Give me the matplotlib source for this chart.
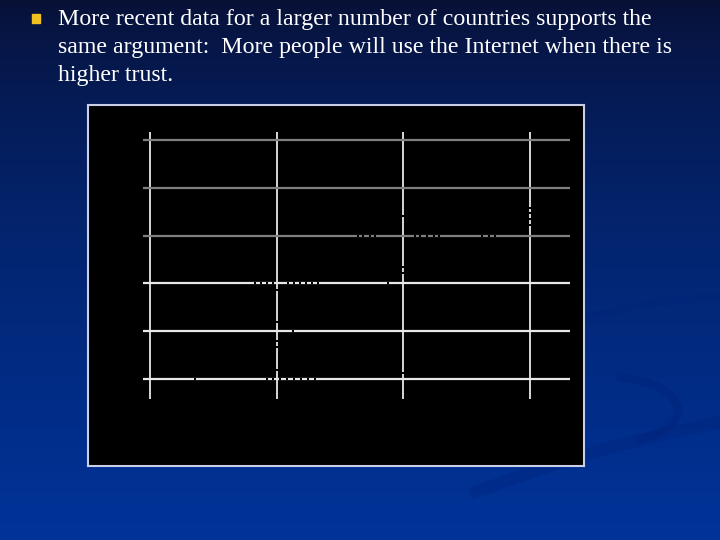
import numpy as np
import matplotlib
matplotlib.use("Agg")
import matplotlib.pyplot as plt
from matplotlib.patches import Rectangle

# ---- data ----
x_ticks = [0, 20, 40, 60]
y_ticks = [0, 20, 40, 60, 80, 100]
trust = [32.8, 33.7, 34.7, 35.5, 41.8, 42.7, 43.8, 44.9, 45.7, 52.4, 53.5, 54.4,
         60, 60, 60, 60, 40,
         16.6, 17.5, 18.4, 19.4, 21.8, 22.7, 23.7, 24.6, 25.5, 26.5, 37.5,
         20, 40, 40,
         22.6, 20, 20, 20,
         7.1, 18.4, 19.4, 20.5, 21.6, 22.7, 23.8, 24.9, 26.0,
         20, 40]
internet = [60, 60, 60, 60, 60, 60, 60, 60, 60, 60, 60, 60,
            71.5, 69.5, 67.0, 64.4, 68.2,
            40, 40, 40, 40, 40, 40, 40, 40, 40, 40, 40,
            37.2, 46.9, 44.4,
            20, 23.8, 15.9, 13.4,
            0, 0, 0, 0, 0, 0, 0, 0, 0,
            3.8, 2.5]
bullet_lines = ["More recent data for a larger number of countries supports the",
                "same argument:  More people will use the Internet when there is",
                "higher trust."]

W, H = 720, 540
fig = plt.figure(figsize=(7.2, 5.4), dpi=100)

# background gradient
bg = fig.add_axes([0, 0, 1, 1])
t = np.linspace(0, 1, 256)[:, None]
top = np.array([0.03, 0.06, 0.20])
bot = np.array([0.0, 0.20, 0.60])
grad = top + (bot - top) * (t ** 0.65)
img = np.repeat(grad[:, None, :], 2, axis=1)
bg.imshow(img, aspect="auto", extent=[0, W, H, 0])
bg.set_xlim(0, W)
bg.set_ylim(H, 0)
bg.axis("off")

# faint decorative swooshes
sw = (0.0, 0.13, 0.47)
u = np.linspace(0, 1, 50)
bg.plot(585 + 135 * u, 318 - 22 * u - 4 * np.sin(np.pi * u), color=sw, lw=5, alpha=0.3,
        solid_capstyle="butt")
th = np.linspace(-1.35, 1.1, 60)
bg.plot(600 + 78 * np.cos(th), 410 + 34 * np.sin(th), color=sw, lw=6, alpha=0.35,
        solid_capstyle="butt")
bg.plot(470 + 250 * u, 494 - 72 * u - 6 * np.sin(np.pi * u), color=sw, lw=9, alpha=0.3,
        solid_capstyle="butt")

# bullet and text
bg.add_patch(Rectangle((32, 14), 8, 9, color="#f0c020"))
for i, line in enumerate(bullet_lines):
    bg.text(58, 20 + 28 * i, line, color="white", fontsize=17.2,
            family="Liberation Serif", va="center", ha="left")

# chart box
box = fig.add_axes([88 / W, 1 - 466 / H, 496 / W, 361 / H])
box.set_facecolor("black")
box.set_xticks([])
box.set_yticks([])
for s in box.spines.values():
    s.set_color("#c8cfe6")
    s.set_linewidth(1.5)

# plot area
ax = fig.add_axes([143 / W, 1 - 399.3 / H, 427 / W, 267.6 / H])
ax.set_facecolor("none")
ax.set_xlim(-1.1, 66.3)
ax.set_ylim(-8.5, 103.5)
ax.axis("off")
ax.vlines(x_ticks, -8.5, 103.5, color="#e8e8e8", lw=1.3)
for yv in y_ticks:
    c = "#808080" if yv >= 60 else "#e8e8e8"
    ax.hlines(yv, -1.1, 66.3, color=c, lw=1.6)
ax.scatter(trust, internet, s=3, color="black", marker="s", zorder=3, linewidths=0)

fig.savefig("out.png", dpi=100)
